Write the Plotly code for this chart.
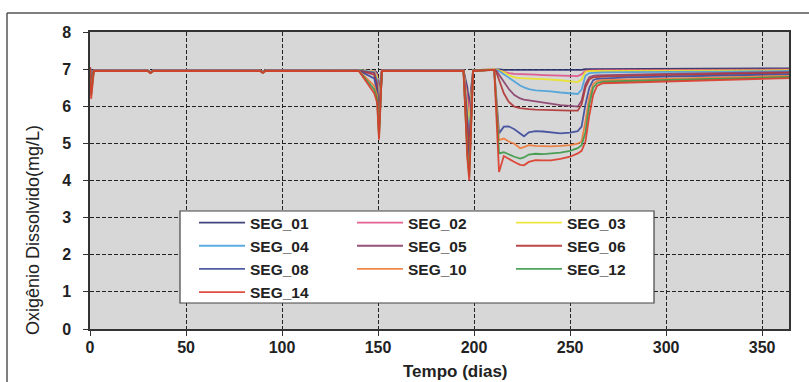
import plotly.graph_objects as go

# Simulation time (days) and dissolved-oxygen results (mg/L) per river segment
days = [0, 0.6, 2, 30, 31.5, 33, 88.5, 90, 91.5, 140, 148, 149.5, 150.5, 152,
        194.5, 196.5, 197.5, 199.5, 210.5,
        211.5, 213, 215.5, 218, 221, 224, 226, 228.5, 232, 236, 240, 245, 250,
        254, 256, 258, 260, 262, 264, 267,
        280, 300, 330, 364]

seg_01 = [7.05, 6.95, 6.97, 6.97, 6.92, 6.97, 6.97, 6.93, 6.97, 6.97, 6.96, 6.90, 6.40, 6.97,
          6.97, 6.50, 6.00, 6.97, 6.99,
          7.00, 6.99, 6.98, 6.98, 6.97, 6.97, 6.97, 6.97, 6.97, 6.97, 6.97, 6.97, 6.97,
          6.97, 6.98, 7.00, 7.00, 7.00, 7.00, 7.00,
          7.00, 7.00, 7.01, 7.02]
seg_02 = [7.05, 6.90, 6.97, 6.97, 6.92, 6.97, 6.97, 6.93, 6.97, 6.97, 6.95, 6.85, 6.20, 6.97,
          6.97, 6.30, 5.80, 6.97, 6.99,
          6.99, 6.96, 6.92, 6.89, 6.87, 6.86, 6.85, 6.85, 6.85, 6.84, 6.84, 6.83, 6.82,
          6.81, 6.86, 6.96, 6.97, 6.97, 6.97, 6.97,
          6.97, 6.97, 6.98, 6.99]
seg_03 = [7.05, 6.85, 6.97, 6.97, 6.91, 6.97, 6.97, 6.92, 6.97, 6.97, 6.94, 6.80, 6.00, 6.97,
          6.97, 6.00, 5.50, 6.97, 6.99,
          6.99, 6.97, 6.92, 6.84, 6.78, 6.76, 6.75, 6.75, 6.74, 6.73, 6.72, 6.70, 6.67,
          6.65, 6.72, 6.93, 6.95, 6.95, 6.95, 6.95,
          6.95, 6.95, 6.96, 6.97]
seg_04 = [7.05, 6.80, 6.97, 6.97, 6.91, 6.97, 6.97, 6.92, 6.97, 6.97, 6.92, 6.70, 5.80, 6.97,
          6.97, 5.70, 5.20, 6.97, 6.99,
          6.98, 6.95, 6.86, 6.77, 6.66, 6.56, 6.51, 6.46, 6.43, 6.42, 6.40, 6.37, 6.35,
          6.33, 6.45, 6.82, 6.89, 6.90, 6.91, 6.91,
          6.92, 6.92, 6.93, 6.95]
seg_05 = [7.05, 6.70, 6.96, 6.96, 6.91, 6.96, 6.96, 6.92, 6.96, 6.96, 6.90, 6.60, 5.60, 6.96,
          6.96, 5.50, 4.90, 6.96, 6.98,
          6.96, 6.85, 6.65, 6.47, 6.30, 6.21, 6.18, 6.16, 6.14, 6.12, 6.08, 6.03, 6.01,
          5.99, 6.15, 6.60, 6.78, 6.82, 6.83, 6.83,
          6.85, 6.87, 6.89, 6.92]
seg_06 = [7.05, 6.60, 6.96, 6.96, 6.90, 6.96, 6.96, 6.91, 6.96, 6.96, 6.85, 6.50, 5.45, 6.96,
          6.96, 5.30, 4.70, 6.96, 6.98,
          6.93, 6.70, 6.35, 6.12, 5.99, 5.95, 5.93, 5.92, 5.91, 5.90, 5.90, 5.89, 5.88,
          5.88, 6.05, 6.50, 6.72, 6.78, 6.79, 6.80,
          6.82, 6.84, 6.87, 6.90]
seg_08 = [7.05, 6.50, 6.96, 6.96, 6.90, 6.96, 6.96, 6.91, 6.96, 6.96, 6.75, 6.40, 5.30, 6.96,
          6.96, 5.00, 4.40, 6.96, 6.98,
          6.30, 5.27, 5.45, 5.46, 5.38, 5.26, 5.19, 5.30, 5.33, 5.32, 5.29, 5.27, 5.29,
          5.33, 5.45, 6.05, 6.50, 6.70, 6.74, 6.75,
          6.78, 6.80, 6.83, 6.86]
seg_10 = [7.05, 6.40, 6.96, 6.96, 6.90, 6.96, 6.96, 6.91, 6.96, 6.96, 6.55, 6.30, 5.20, 6.96,
          6.96, 4.80, 4.20, 6.96, 6.98,
          6.25, 5.09, 5.13, 5.05, 4.99, 4.87, 4.90, 4.95, 4.93, 4.92, 4.92, 4.93, 4.95,
          4.99, 5.05, 5.60, 6.25, 6.60, 6.68, 6.70,
          6.72, 6.74, 6.78, 6.82]
seg_12 = [7.05, 6.30, 6.95, 6.95, 6.89, 6.95, 6.95, 6.90, 6.95, 6.95, 6.45, 6.20, 5.15, 6.95,
          6.95, 4.70, 4.10, 6.95, 6.98,
          6.10, 4.73, 4.76, 4.70, 4.64, 4.59, 4.62, 4.70, 4.72, 4.71, 4.72, 4.75, 4.80,
          4.87, 4.95, 5.30, 6.05, 6.50, 6.62, 6.66,
          6.68, 6.71, 6.75, 6.79]
seg_14 = [7.05, 6.20, 6.95, 6.95, 6.89, 6.95, 6.95, 6.90, 6.95, 6.95, 6.35, 6.10, 5.10, 6.95,
          6.95, 4.60, 4.00, 6.95, 6.98,
          5.90, 4.23, 4.66, 4.58, 4.50, 4.42, 4.41, 4.50, 4.55, 4.54, 4.54, 4.58, 4.64,
          4.73, 4.80, 5.05, 5.75, 6.30, 6.55, 6.62,
          6.64, 6.67, 6.71, 6.76]

names = ["SEG_01", "SEG_02", "SEG_03", "SEG_04", "SEG_05",
         "SEG_06", "SEG_08", "SEG_10", "SEG_12", "SEG_14"]
series = [seg_01, seg_02, seg_03, seg_04, seg_05, seg_06, seg_08, seg_10, seg_12, seg_14]
colors = ["#2b2f6e", "#e0508a", "#ece22a", "#4aa2dc", "#8a3f6c",
          "#b23636", "#3c4a9c", "#f07a3a", "#3c9a48", "#dc3a2a"]
# legend column of each series (three-column key)
legend_ids = ["legend", "legend2", "legend3", "legend", "legend2",
              "legend3", "legend", "legend2", "legend3", "legend"]

x_ticks = [0, 50, 100, 150, 200, 250, 300, 350]
y_ticks = [0, 1, 2, 3, 4, 5, 6, 7, 8]

FONT = "Liberation Sans, Arial, sans-serif"
W, H = 809, 382
ML, MR, MT, MB = 90, 20, 32, 53
PW, PH = W - ML - MR, H - MT - MB


def px_x(p):
    return (p - ML) / PW


def px_y(p):
    return (H - MB - p) / PH


fig = go.Figure()
for name, vals, col, lg in zip(names, series, colors, legend_ids):
    fig.add_trace(go.Scatter(
        x=days, y=vals, mode="lines", name=name, legend=lg,
        line=dict(color=col, width=1.8), opacity=0.9,
    ))

axis_common = dict(
    showline=True, linecolor="#333333", linewidth=1.5, mirror=True,
    ticks="outside", ticklen=5, tickcolor="#333333", tickwidth=1,
    showgrid=True, gridcolor="#222222", gridwidth=1, griddash="4px,2px",
    zeroline=False,
    tickfont=dict(family=FONT, size=16, color="#222222", weight="bold"),
)

fig.update_xaxes(range=[0, 364], tickvals=x_ticks, ticklabelstandoff=-2, **axis_common)
fig.update_yaxes(range=[0, 8], tickvals=y_ticks, ticklabelstandoff=9, **axis_common)

legend_style = dict(
    orientation="v", bgcolor="rgba(0,0,0,0)", borderwidth=0,
    font=dict(family=FONT, size=15.5, color="#222222", weight="bold"),
    xanchor="left", yanchor="top", y=px_y(206), traceorder="normal",
    itemwidth=46,
)

fig.update_layout(
    width=W, height=H,
    margin=dict(l=ML, r=MR, t=MT, b=MB),
    paper_bgcolor="white", plot_bgcolor="#d7d7d7",
    showlegend=True,
    legend=dict(x=px_x(194), **legend_style),
    legend2=dict(x=px_x(352), **legend_style),
    legend3=dict(x=px_x(511), **legend_style),
    shapes=[
        # white key box
        dict(type="rect", xref="paper", yref="paper",
             x0=px_x(180), x1=px_x(654), y0=px_y(303), y1=px_y(211),
             fillcolor="white", line=dict(color="#444444", width=1.2), layer="above"),
        # outer chart frame (left and top edges)
        dict(type="line", xref="paper", yref="paper",
             x0=px_x(7), x1=px_x(7), y0=px_y(382), y1=px_y(13),
             line=dict(color="#555555", width=1.5)),
        dict(type="line", xref="paper", yref="paper",
             x0=px_x(7), x1=px_x(809), y0=px_y(13), y1=px_y(13),
             line=dict(color="#555555", width=1.5)),
    ],
    annotations=[
        dict(text="Tempo (dias)", xref="paper", yref="paper",
             x=px_x(455), y=px_y(371), xanchor="center", yanchor="middle",
             showarrow=False,
             font=dict(family=FONT, size=17, color="#222222", weight="bold")),
        dict(text="Oxigênio Dissolvido(mg/L)", xref="paper", yref="paper",
             x=px_x(33), y=px_y(230), xanchor="center", yanchor="middle",
             showarrow=False, textangle=-90,
             font=dict(family=FONT, size=18, color="#222222")),
    ],
)

fig.write_html("out.html")
